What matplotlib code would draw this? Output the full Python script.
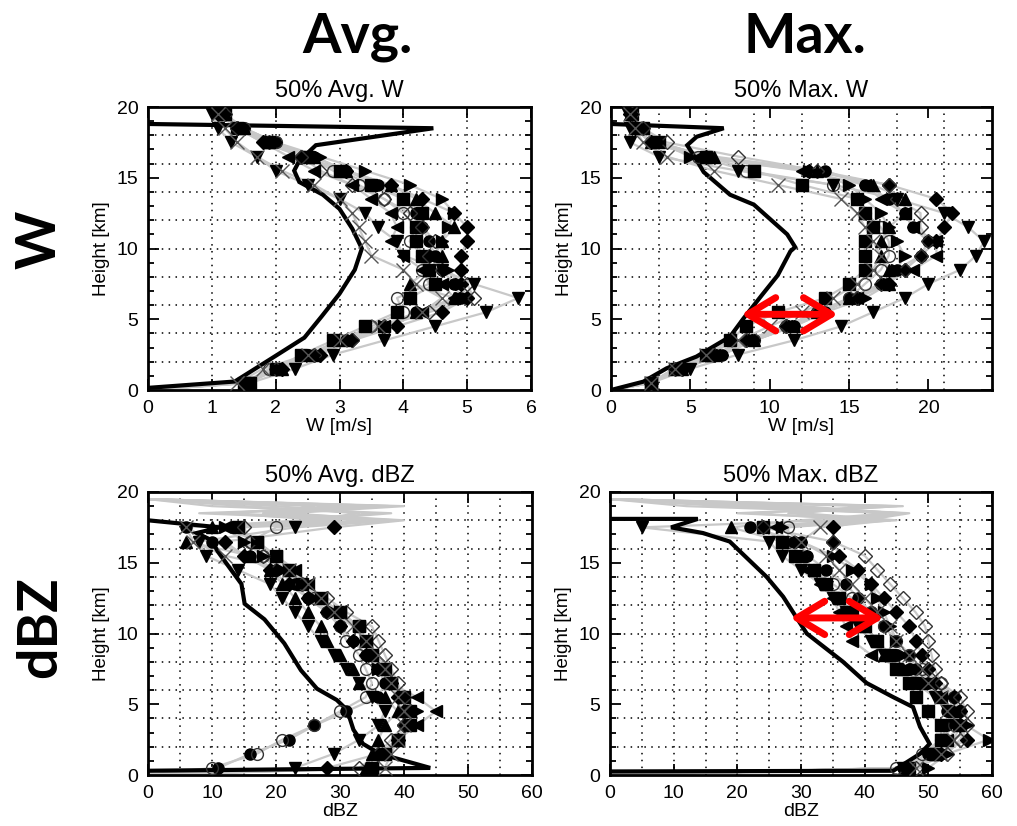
import matplotlib
matplotlib.use("Agg")
import matplotlib.pyplot as plt
from matplotlib.ticker import MultipleLocator

# ---------------- data ----------------
# model heights [km]: ground connector, then levels
h_w = [0.0, 0.5, 1.5, 2.5, 3.5, 4.5, 5.5, 6.5, 7.5, 8.5, 9.5, 10.5,
       11.5, 12.5, 13.5, 14.5, 15.5, 16.5, 17.5, 18.5, 19.5]
h_z = [0.0, 0.5, 1.5, 2.5, 3.5, 4.5, 5.5, 6.5, 7.5, 8.5, 9.5, 10.5,
       11.5, 12.5, 13.5, 14.5, 15.5, 16.5, 17.5, 18.0, 18.5, 19.0, 19.5]

series_names = ["circle", "open_circle", "square", "diamond", "open_diamond",
                "tri_up", "tri_down", "tri_left", "tri_right", "cross"]

# 50% Avg. W  [m/s]
avg_w = {
    "circle":       [0, 1.5, 2.0, 2.6, 3.1, 3.7, 4.2, 4.9, 4.8, 4.6, 4.5, 4.4, 4.3, 4.2, 4.0, 3.6, 3.1, 2.6, 2.0, 1.5, 1.2],
    "open_circle":  [0, 1.5, 1.9, 2.5, 3.0, 3.5, 4.0, 3.9, 4.4, 4.3, 4.3, 4.1, 4.2, 4.0, 3.7, 3.3, 2.9, 2.5, 2.0, 1.5, 1.2],
    "square":       [0, 1.6, 2.0, 2.4, 2.9, 3.4, 3.9, 4.1, 4.5, 4.4, 4.3, 4.2, 4.2, 4.3, 4.0, 3.5, 3.0, 2.5, 1.9, 1.4, 1.2],
    "diamond":      [0, 1.5, 2.1, 2.7, 3.2, 3.9, 4.6, 5.0, 4.9, 4.9, 4.9, 5.0, 5.0, 4.8, 4.3, 3.8, 3.1, 2.4, 1.8, 1.4, 1.1],
    "open_diamond": [0, 1.5, 2.0, 2.6, 3.2, 3.7, 4.4, 5.1, 5.0, 4.6, 4.4, 4.5, 4.3, 4.1, 3.7, 3.2, 2.7, 2.4, 1.9, 1.4, 1.2],
    "tri_up":       [0, 1.5, 2.1, 2.6, 3.1, 3.7, 4.2, 4.8, 4.1, 4.4, 4.6, 4.6, 4.8, 4.5, 4.2, 3.8, 3.1, 2.6, 1.9, 1.5, 1.2],
    "tri_down":     [0, 1.6, 2.3, 2.9, 3.7, 4.5, 5.3, 5.8, 5.1, 4.6, 4.0, 3.9, 3.6, 3.4, 3.0, 2.5, 2.0, 1.7, 1.3, 1.1, 1.0],
    "tri_left":     [0, 1.5, 2.0, 2.5, 3.1, 3.7, 4.3, 4.8, 4.6, 4.3, 4.0, 3.8, 3.9, 3.8, 3.5, 3.2, 2.6, 2.2, 1.8, 1.4, 1.1],
    "tri_right":    [0, 1.5, 2.0, 2.6, 3.2, 3.7, 4.3, 4.9, 4.9, 4.7, 4.5, 4.6, 4.7, 4.8, 4.6, 4.1, 3.4, 2.7, 2.0, 1.5, 1.2],
    "cross":        [0, 1.4, 1.8, 2.5, 3.0, 3.6, 4.3, 4.6, 4.2, 4.0, 3.5, 3.4, 3.3, 3.2, 3.0, 2.6, 2.1, 1.7, 1.4, 1.2, 1.1],
}

# 50% Max. W  [m/s]
max_w = {
    "circle":       [0, 2.5, 4.5, 7.0, 9.0, 11.5, 13.5, 15.0, 17.0, 18.0, 19.5, 20.0, 19.0, 18.5, 17.5, 16.0, 13.5, 6.0, 3.0, 1.8, 1.3],
    "open_circle":  [0, 2.5, 4.0, 6.5, 9.0, 11.0, 13.0, 15.0, 16.0, 17.0, 17.5, 17.5, 17.0, 16.0, 15.5, 14.0, 8.5, 5.5, 2.5, 1.8, 1.3],
    "square":       [0, 2.5, 4.0, 6.0, 7.5, 8.5, 10.5, 13.5, 15.0, 16.0, 16.0, 16.0, 16.5, 16.0, 15.5, 12.0, 9.0, 6.0, 3.0, 2.0, 1.3],
    "diamond":      [0, 2.5, 4.5, 6.5, 8.5, 11.0, 13.0, 15.5, 17.5, 18.5, 19.5, 20.5, 21.0, 21.5, 20.5, 17.5, 12.5, 6.0, 2.5, 1.5, 1.2],
    "open_diamond": [0, 2.5, 4.0, 6.5, 8.5, 11.0, 13.0, 15.5, 17.0, 18.5, 19.5, 20.0, 19.5, 19.5, 18.0, 17.5, 13.0, 8.0, 3.5, 2.0, 1.3],
    "tri_up":       [0, 2.5, 4.5, 6.5, 9.0, 11.5, 13.0, 15.0, 17.5, 17.5, 17.0, 17.0, 17.5, 18.5, 18.5, 16.5, 13.0, 6.5, 2.5, 1.5, 1.2],
    "tri_down":     [0, 2.5, 5.0, 8.0, 11.5, 14.5, 16.5, 18.5, 20.0, 22.0, 23.0, 23.5, 22.5, 21.0, 18.0, 14.0, 8.0, 3.0, 1.2, 1.2, 1.1],
    "tri_left":     [0, 2.5, 4.0, 6.5, 8.5, 11.0, 13.0, 15.5, 17.0, 19.0, 20.5, 20.5, 19.0, 18.5, 17.0, 16.0, 12.0, 5.5, 2.5, 1.5, 1.2],
    "tri_right":    [0, 2.5, 4.5, 7.0, 9.0, 11.5, 13.5, 16.0, 17.5, 18.0, 18.5, 18.0, 17.5, 17.0, 16.0, 15.0, 12.5, 5.0, 3.0, 1.8, 1.3],
    "cross":        [0, 2.5, 4.0, 6.0, 8.0, 10.0, 12.0, 14.0, 15.5, 16.5, 17.0, 16.5, 16.0, 15.5, 14.5, 10.5, 6.5, 3.5, 2.0, 1.5, 1.2],
}

# 50% Avg. dBZ
avg_z = {
    "circle":       [0, 11, 16, 22, 26, 31, 36, 37, 36, 34, 32, 30, 28, 25, 23, 20, 16, 10, 6, 28, 12, 30, 0],
    "open_circle":  [0, 10, 17, 21, 26, 30, 34, 35, 34, 33, 31, 30, 28, 26, 24, 22, 18, 16, 20, 35, 8, 38, 0],
    "square":       [0, 35, 37, 39, 41, 41, 40, 38, 37, 35, 34, 33, 30, 27, 24, 22, 20, 17, 14, 25, 33, 15, 0],
    "diamond":      [0, 28, 36, 39, 40, 40, 39, 38, 36, 34, 32, 30, 28, 25, 22, 19, 15, 12, 29, 40, 20, 36, 0],
    "open_diamond": [0, 33, 36, 38, 40, 41, 40, 39, 38, 37, 36, 35, 31, 28, 24, 20, 18, 16, 15, 38, 22, 40, 0],
    "tri_up":       [0, 34, 35, 36, 37, 39, 37, 33, 32, 30, 28, 27, 25, 23, 21, 19, 16, 6, 10, 30, 18, 26, 0],
    "tri_down":     [0, 23, 29, 33, 36, 37, 35, 33, 31, 29, 27, 25, 23, 21, 19, 14, 9, 8, 23, 39, 12, 33, 0],
    "tri_left":     [0, 35, 37, 39, 42, 45, 42, 38, 36, 35, 34, 33, 30, 27, 25, 23, 20, 17, 12, 27, 35, 20, 0],
    "tri_right":    [0, 35, 37, 39, 41, 42, 40, 38, 36, 35, 34, 33, 29, 26, 24, 21, 18, 15, 12, 34, 18, 38, 0],
    "cross":        [0, 37, 38, 39, 40, 40, 39, 38, 37, 36, 34, 32, 29, 27, 25, 22, 12, 7, 6, 24, 38, 10, 0],
}

# 50% Max. dBZ
max_z = {
    "circle":       [0, 46, 50, 52, 53, 53, 54, 50, 48, 47, 45, 43, 41, 39, 37, 34, 31, 30, 22, 38, 45, 30, 0],
    "open_circle":  [0, 45, 49, 52, 54, 55, 54, 52, 49, 47, 45, 43, 41, 38, 35, 32, 30, 28, 28, 42, 22, 44, 0],
    "square":       [0, 47, 51, 52, 52, 50, 48, 47, 45, 44, 42, 40, 38, 36, 34, 32, 29, 27, 24, 36, 46, 18, 0],
    "diamond":      [0, 47, 52, 56, 55, 55, 54, 51, 50, 49, 48, 47, 45, 43, 41, 39, 36, 35, 35, 40, 47, 25, 0],
    "open_diamond": [0, 48, 53, 55, 56, 56, 55, 52, 51, 50.5, 50, 49.5, 48, 46, 44, 42, 40, 35, 24, 44, 20, 46, 0],
    "tri_up":       [0, 47, 51, 53, 55, 54, 52, 49, 46, 43, 42, 40, 38, 36, 34, 32, 30, 27, 19, 30, 44, 20, 0],
    "tri_down":     [0, 46, 50, 52, 54, 53, 51, 48, 45, 43, 41, 39, 37, 35, 33, 30, 27, 25, 5, 34, 45, 12, 0],
    "tri_left":     [0, 46, 50, 53, 55, 54, 52, 50, 46, 41, 38, 37, 36, 35, 33, 31, 30, 28, 26, 45, 30, 40, 0],
    "tri_right":    [0, 50, 53, 59.5, 56, 54, 52, 50, 48, 46, 45, 44, 43, 42, 41, 38, 35, 30, 27, 40, 46, 25, 0],
    "cross":        [0, 48, 52, 54, 55, 53, 52, 50, 49, 47, 45, 44, 42, 40, 38, 36, 34, 30, 33, 44, 28, 45, 0],
}

# observed profiles (thick black lines)
obs_avg_w_x = [0, 1.36, 1.96, 2.45, 2.72, 3.0, 3.24, 3.35, 3.2, 3.0, 2.74, 2.37, 2.29, 2.37, 2.63, 4.47, 0]
obs_avg_w_h = [0.15, 0.6, 2.3, 3.7, 5.2, 6.8, 8.5, 10.0, 11.4, 12.8, 13.8, 14.7, 15.5, 16.2, 17.3, 18.5, 18.8]
obs_max_w_x = [0, 2.04, 3.5, 5.38, 7.5, 8.35, 9.5, 10.5, 11.3, 11.6, 11.1, 10.1, 9.0, 7.5, 5.84, 5.2, 4.8, 5.4, 7.1, 0]
obs_max_w_h = [0, 0.59, 1.53, 2.36, 3.77, 5.06, 6.7, 8.1, 9.8, 10.1, 11.0, 12.0, 13.1, 13.8, 15.4, 16.6, 17.3, 17.9, 18.5, 18.8]
obs_avg_z_x = [0, 44.1, 36.2, 33.6, 32.1, 31.1, 29.5, 26.4, 23.9, 21.3, 18.2, 15.1, 14.6, 12.5, 10.9, 9.9, 7.6, 11.2, 0]
obs_avg_z_h = [0.3, 0.5, 1.5, 2.2, 3.2, 4.6, 5.3, 6.1, 7.4, 9.3, 11.0, 12.1, 13.5, 14.8, 15.8, 16.6, 17.1, 17.5, 18.0]
obs_max_z_x = [0, 44.5, 48.7, 50.2, 48.7, 47.6, 44.5, 40.3, 36.6, 30.9, 27.2, 24.6, 18.8, 14.6, 9.6, 13.8, 0]
obs_max_z_h = [0.25, 0.3, 1.5, 2.2, 3.4, 4.8, 5.5, 6.5, 8.0, 10.0, 12.6, 14.0, 16.5, 17.1, 17.5, 18.1, 18.1]

titles = ["50% Avg. W", "50% Max. W", "50% Avg. dBZ", "50% Max. dBZ"]
xlabels = ["W [m/s]", "W [m/s]", "dBZ", "dBZ"]
x_limits = [6, 24, 60, 60]
x_label_step = [1, 5, 10, 10]
x_grid_step = [1, 3, 5, 5]

# red arrows (x start, x end, height) on the Max. panels
arrow_max_w = [8.2, 14.3, 5.35]
arrow_max_z = [28.3, 43.0, 11.1]

# ---------------- styling ----------------
marker_style = {
    "circle":       dict(marker="o", mfc="black", mec="black", ms=8),
    "open_circle":  dict(marker="o", mfc="none", mec="#333333", ms=8.5, mew=1.0),
    "square":       dict(marker="s", mfc="black", mec="black", ms=8),
    "diamond":      dict(marker="D", mfc="black", mec="black", ms=7),
    "open_diamond": dict(marker="D", mfc="none", mec="#333333", ms=7, mew=1.0),
    "tri_up":       dict(marker="^", mfc="black", mec="black", ms=9),
    "tri_down":     dict(marker="v", mfc="black", mec="black", ms=9),
    "tri_left":     dict(marker="<", mfc="black", mec="black", ms=9),
    "tri_right":    dict(marker=">", mfc="black", mec="black", ms=9),
    "cross":        dict(marker="x", mfc="none", mec="#555555", ms=10, mew=1.0),
}

plt.rcParams["font.family"] = ["Liberation Sans", "DejaVu Sans"]

fig = plt.figure(figsize=(10.17, 8.26), dpi=100)
W, H = 1017, 826
boxes = [(148, 531, 107, 390), (611, 992, 107, 390),
         (148, 532, 492, 775), (610, 992, 492, 775)]

panels = [
    (avg_w, h_w, obs_avg_w_x, obs_avg_w_h, slice(1, None)),
    (max_w, h_w, obs_max_w_x, obs_max_w_h, slice(1, None)),
    (avg_z, h_z, obs_avg_z_x, obs_avg_z_h, slice(1, 19)),
    (max_z, h_z, obs_max_z_x, obs_max_z_h, slice(1, 19)),
]

for i, (model, hts, ox, oh, mk) in enumerate(panels):
    x0, x1, y0, y1 = boxes[i]
    ax = fig.add_axes([x0 / W, 1 - y1 / H, (x1 - x0) / W, (y1 - y0) / H])
    xmax = x_limits[i]
    ax.set_xlim(0, xmax)
    ax.set_ylim(0, 20)

    # dotted grid
    gx = x_grid_step[i]
    for g in range(1, int(xmax / gx)):
        ax.axvline(g * gx, color="black", lw=1.1, ls=(0, (1, 3.5)), zorder=1)
    for g in range(2, 20, 2):
        ax.axhline(g, color="black", lw=1.1, ls=(0, (1, 3.5)), zorder=1)

    for name in series_names:
        ax.plot(model[name], hts, color="#c8c8c8", lw=1.6, zorder=2)
    ax.plot(ox, oh, color="black", lw=3, zorder=3, solid_joinstyle="miter")
    for name in series_names:
        ax.plot(model[name], hts, ls="none", markevery=mk, zorder=4,
                **marker_style[name])

    ax.set_xticks(range(0, xmax + 1, x_label_step[i]))
    ax.yaxis.set_major_locator(MultipleLocator(5))
    ax.yaxis.set_minor_locator(MultipleLocator(1))
    ax.tick_params(which="both", direction="in", top=True, right=True,
                   labelsize=14, width=1.3, pad=7)
    ax.tick_params(which="major", length=8)
    ax.tick_params(which="minor", length=4)
    for s in ax.spines.values():
        s.set_linewidth(2)
    ax.set_title(titles[i], fontsize=17, pad=7)
    ax.set_xlabel(xlabels[i], fontsize=14, labelpad=1)
    ax.set_ylabel("Height [km]", fontsize=13.5, labelpad=5)

    if i == 1 or i == 3:
        a = arrow_max_w if i == 1 else arrow_max_z
        ax.annotate("", xy=(a[1], a[2]), xytext=(a[0], a[2]),
                    arrowprops=dict(arrowstyle="<->, head_length=1.0, head_width=0.6",
                                    color="#ff0000", lw=5, mutation_scale=20,
                                    shrinkA=0, shrinkB=0),
                    zorder=6)

big = dict(fontsize=40, fontweight="bold", family=["Lato", "DejaVu Sans"])
fig.text(357 / W, 1 - 37 / H, "Avg.", ha="center", va="center", **big)
fig.text(805 / W, 1 - 37 / H, "Max.", ha="center", va="center", **big)
fig.text(40 / W, 1 - 240 / H, "W", ha="center", va="center", rotation=90, **big)
fig.text(40 / W, 1 - 627 / H, "dBZ", ha="center", va="center", rotation=90, **big)

fig.savefig("out.png", dpi=100)
